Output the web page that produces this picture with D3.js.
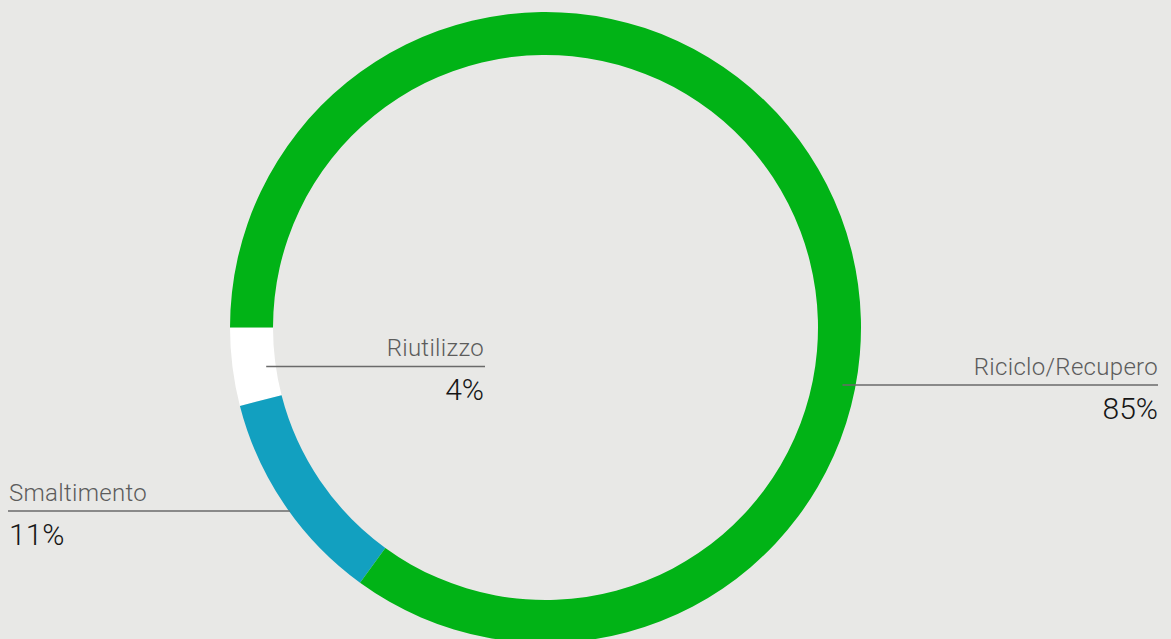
<!DOCTYPE html>
<html>
<head>
<meta charset="utf-8">
<script src="https://cdn.jsdelivr.net/npm/d3@7"></script>
<style>
  html, body { margin: 0; padding: 0; background: #e8e8e6; }
  svg { display: block; }
  text { font-family: Roboto, "Open Sans", sans-serif; }
</style>
</head>
<body>
<svg id="chart" width="1171" height="639"></svg>
<script>
// Share of end-of-life treatment, in percent
const categories = ["Riutilizzo", "Smaltimento", "Riciclo/Recupero"];
const values = [4, 11, 85];
const valueLabels = ["4%", "11%", "85%"];

const W = 1171, H = 639;
const cx = 545.5, cy = 327.5;
const rOuter = 315.5, rInner = 272.5;

const color = d3.scaleOrdinal()
  .domain(categories)
  .range(["#ffffff", "#12a0c0", "#01b316"]);

const svg = d3.select("#chart");
svg.append("rect").attr("width", W).attr("height", H).attr("fill", "#e8e8e6");

// Ring starts at 9 o'clock and runs counter-clockwise
const pie = d3.pie()
  .sort(null)
  .value(d => d.value)
  .startAngle(1.5 * Math.PI)
  .endAngle(1.5 * Math.PI - 2 * Math.PI);

const arc = d3.arc().innerRadius(rInner).outerRadius(rOuter);

const data = categories.map((c, i) => ({ name: c, value: values[i], label: valueLabels[i] }));

const g = svg.append("g").attr("transform", `translate(${cx},${cy})`);
g.selectAll("path.slice")
  .data(pie(data))
  .join("path")
  .attr("class", "slice")
  .attr("d", arc)
  .attr("fill", d => color(d.data.name));

// Label layout: leader line height, how far into the ring it reaches, text edge
const layout = {
  "Riutilizzo":       { lineY: 366.5, r: 282, side: -1, textX: 484, anchor: "end", lineToX: 485 },
  "Smaltimento":      { lineY: 511,   r: 314.5, side: -1, textX: 9,   anchor: "start", lineToX: 8 },
  "Riciclo/Recupero": { lineY: 385,   r: 302.5, side: 1, textX: 1158, anchor: "end", lineToX: 1158 }
};

const labels = svg.append("g");
data.forEach(d => {
  const L = layout[d.name];
  const dy = L.lineY - cy;
  const ringX = cx + L.side * Math.sqrt(L.r * L.r - dy * dy);
  labels.append("line")
    .attr("x1", ringX).attr("x2", L.lineToX)
    .attr("y1", L.lineY).attr("y2", L.lineY)
    .attr("stroke", "#6a6a6a").attr("stroke-width", 1.4);
  labels.append("text")
    .attr("x", L.textX).attr("y", L.lineY - 10.5)
    .attr("text-anchor", L.anchor)
    .attr("font-size", 24).attr("font-weight", 300)
    .attr("letter-spacing", 0.3)
    .attr("fill", "#5c5c5c")
    .text(d.name);
  labels.append("text")
    .attr("x", L.textX).attr("y", L.lineY + 33.5)
    .attr("text-anchor", L.anchor)
    .attr("font-size", 30).attr("font-weight", 300)
    .attr("fill", "#161616")
    .text(d.label);
});
</script>
</body>
</html>
